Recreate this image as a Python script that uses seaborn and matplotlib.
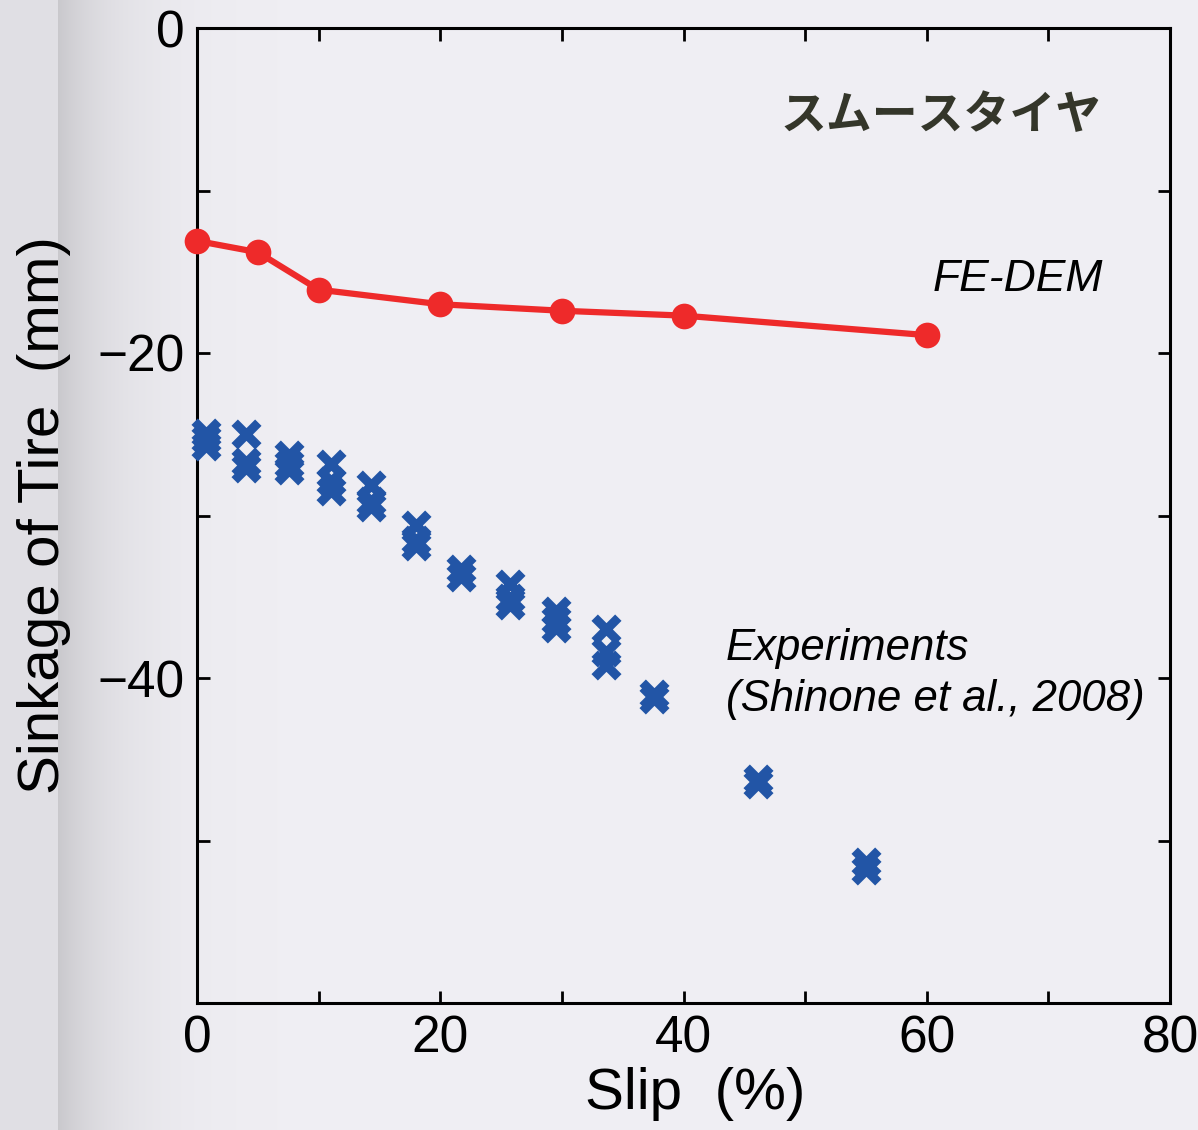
import numpy as np
import pandas as pd
import matplotlib
matplotlib.use("Agg")
import matplotlib.pyplot as plt
import seaborn as sns

# FE-DEM simulation: slip (%) vs. tire sinkage (mm)
fedem_slip = [0, 5, 10, 20, 30, 40, 60]
fedem_sinkage = [-13.1, -13.8, -16.1, -17.0, -17.4, -17.7, -18.9]

# Experiments (Shinone et al., 2008)
exp_slip = [0.7, 0.7, 0.7,
            4.0, 4.0, 4.0,
            7.6, 7.6, 7.6,
            11.0, 11.0, 11.0,
            14.3, 14.3, 14.3,
            18.0, 18.0, 18.0,
            21.7, 21.7,
            25.7, 25.7, 25.7,
            29.5, 29.5, 29.5,
            33.6, 33.6, 33.6,
            37.6, 37.6,
            46.1, 46.1,
            55.0, 55.0]
exp_sinkage = [-24.9, -25.3, -25.7,
               -25.0, -26.7, -27.1,
               -26.3, -26.8, -27.2,
               -26.8, -27.9, -28.5,
               -28.1, -29.1, -29.5,
               -30.6, -31.5, -31.9,
               -33.3, -33.8,
               -34.2, -35.1, -35.5,
               -35.9, -36.4, -36.9,
               -37.0, -38.4, -39.2,
               -41.0, -41.3,
               -46.2, -46.5,
               -51.3, -51.8]

x_ticks = [0, 20, 40, 60, 80]
y_ticks = [0, -20, -40]

sns.set_theme(style="ticks")
plt.rcParams["font.family"] = ["Liberation Sans", "DejaVu Sans"]

bg = "#f0eff4"
fig = plt.figure(figsize=(11.98, 11.30), dpi=100, facecolor=bg)

# page-edge shading along the left border
bg_ax = fig.add_axes([0, 0, 1, 1], zorder=-10)
cols = np.arange(1198)
shade = np.full(1198, 1.0)
edge = cols >= 58
shade[edge] = 1 - 0.16 * np.exp(-(cols[edge] - 58) / 60.0)
shade[cols < 58] = 0.935
base = np.array([0xf0, 0xef, 0xf4]) / 255.0
img = np.clip(base[None, None, :] * shade[None, :, None], 0, 1)
img = np.repeat(img, 2, axis=0)
bg_ax.imshow(img, aspect="auto", extent=[0, 1, 0, 1])
bg_ax.set_axis_off()

ax = fig.add_axes([197 / 1198, 1 - 1003 / 1130, (1170 - 197) / 1198, (1003 - 28) / 1130])
ax.set_facecolor("none")

fedem_df = pd.DataFrame({"slip": fedem_slip, "sinkage": fedem_sinkage})
exp_df = pd.DataFrame({"slip": exp_slip, "sinkage": exp_sinkage})

sns.lineplot(data=fedem_df, x="slip", y="sinkage", ax=ax, color="#ee2a2a",
             linewidth=4.5, marker="o", markersize=18.5, markeredgewidth=0,
             clip_on=False, zorder=5)
sns.scatterplot(data=exp_df, x="slip", y="sinkage", ax=ax, marker="x",
                s=290, linewidth=6.5, color="#2255a6", clip_on=False, zorder=4)

ax.set_xlim(0, 80)
ax.set_ylim(-60, 0)
ax.set_xticks(x_ticks)
ax.set_yticks(y_ticks)
ax.set_xticks(np.arange(0, 81, 10), minor=True)
ax.set_yticks(np.arange(-60, 1, 10), minor=True)
ax.set_xticklabels([str(t) for t in x_ticks])
ax.set_yticklabels(["0", "\u221220", "\u221240"])

for s in ax.spines.values():
    s.set_linewidth(2.2)
    s.set_color("black")
ax.tick_params(which="both", direction="in", top=True, right=True,
               length=9, width=2.0, color="black")
ax.tick_params(axis="both", which="major", labelsize=37, colors="black")
ax.tick_params(axis="y", which="major", pad=9)
ax.tick_params(axis="x", which="major", pad=8)

ax.set_xlabel("Slip  (%)", fontsize=42, color="black")
ax.set_ylabel("Sinkage of Tire  (mm)", fontsize=42, color="black")
ax.xaxis.set_label_coords(0.512, -0.066)
ax.yaxis.set_label_coords(-0.13, 0.5)

ax.text(48.0, -5.4, "スムースタイヤ", fontsize=33, fontweight="bold",
        color="#34362a", ha="left", va="center",
        family=["Noto Sans CJK JP", "DejaVu Sans"])
ax.text(60.5, -15.5, "FE-DEM", fontsize=32, fontstyle="italic",
        color="black", ha="left", va="center")
ax.text(43.5, -38.2, "Experiments", fontsize=31.5, fontstyle="italic",
        color="black", ha="left", va="center")
ax.text(43.5, -41.3, "(Shinone et al., 2008)", fontsize=31.5, fontstyle="italic",
        color="black", ha="left", va="center")

fig.savefig("out.png", dpi=100, facecolor=bg)
